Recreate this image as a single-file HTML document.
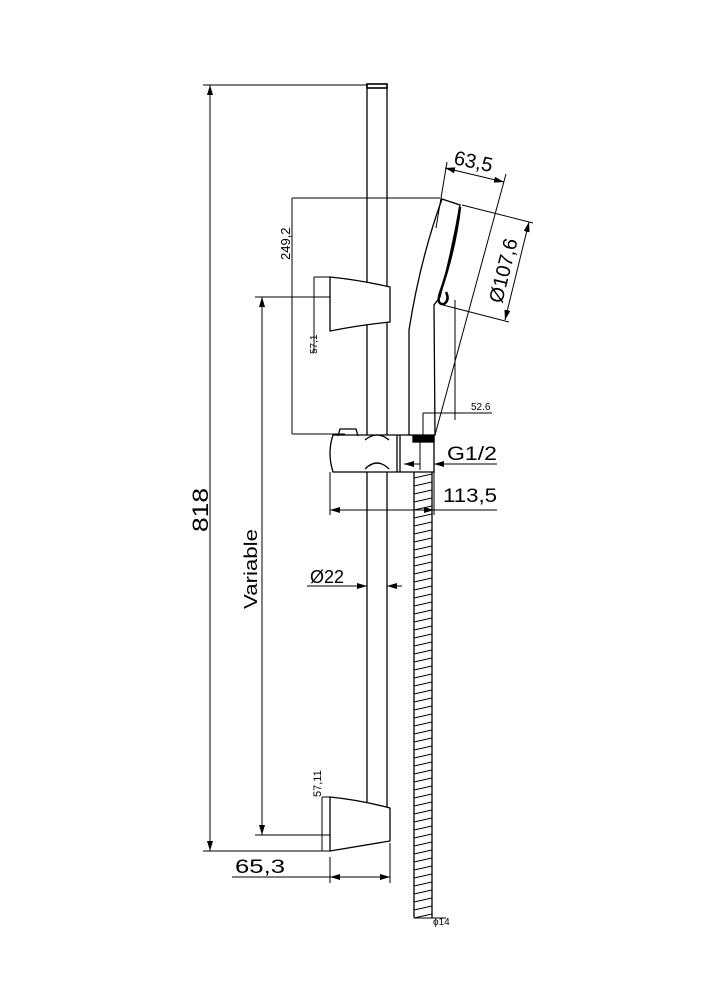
<!DOCTYPE html>
<html><head><meta charset="utf-8"><style>
html,body{margin:0;padding:0;background:#fff}
svg{display:block}
text{font-family:"Liberation Sans",sans-serif;fill:#000}
</style></head><body>
<svg width="707" height="1000" viewBox="0 0 707 1000" xmlns="http://www.w3.org/2000/svg">
<defs>
<marker id="a" viewBox="0 0 10 6" refX="10" refY="3" markerWidth="10" markerHeight="6" orient="auto-start-reverse" markerUnits="userSpaceOnUse"><path d="M0,0L10,3L0,6z" fill="#000"/></marker>
<pattern id="h" width="18" height="8" patternUnits="userSpaceOnUse"><line x1="0" y1="6" x2="18" y2="2" stroke="#000" stroke-width="1"/></pattern>
</defs>
<g fill="none" stroke="#000" stroke-width="1.3">
<line x1="367" y1="85" x2="367" y2="438"/><line x1="387" y1="85" x2="387" y2="438"/>
<line x1="367" y1="470" x2="367" y2="805"/><line x1="387" y1="470" x2="387" y2="808"/>
<rect x="367" y="84" width="20" height="4" fill="#fff" stroke-width="1.6"/>
<path d="M330,277 Q360,280 390,287 L390,322 Q360,325 330,331 Z" fill="#fff"/>
<path d="M330,797 Q360,800 390,808 L390,841 Q360,846 330,851 Z" fill="#fff"/>
<path d="M333,435 L397,435 L397,472 L333,472 Q327,453 333,435 Z" fill="#fff"/>
<path d="M397,435 L434,435 L434,472 L397,472"/>
<line x1="400" y1="435" x2="400" y2="472"/>
<path d="M365,440 Q377,430 389,440"/><path d="M365,469 Q377,457 389,469"/>
<path d="M338,436 L340,429 L356,429 L358,436"/>
<rect x="413" y="435" width="21" height="7" fill="#000"/>
<path d="M442,199 L460,205 Q452,250 440,297 L434,305 L435,435 L409,435 L409,330 Q420,260 442,199 Z" fill="#fff"/>
<path d="M460,207 Q455,250 440,293 Q436,305 444,304 Q450,300 446,292" stroke-width="2.5"/>
<rect x="414" y="472" width="18" height="446" fill="url(#h)" stroke="none"/>
<line x1="414" y1="472" x2="414" y2="918"/><line x1="432" y1="472" x2="432" y2="918"/>
<line x1="414" y1="918" x2="446" y2="918" stroke-width="1"/>
</g>
<g fill="none" stroke="#000" stroke-width="1">
<line x1="203" y1="85" x2="367" y2="85"/><line x1="203" y1="851" x2="330" y2="851"/>
<line x1="210" y1="85" x2="210" y2="851" marker-start="url(#a)" marker-end="url(#a)"/>
<line x1="255" y1="297" x2="330" y2="297"/><line x1="255" y1="835" x2="330" y2="835"/>
<line x1="262" y1="297" x2="262" y2="835" marker-start="url(#a)" marker-end="url(#a)"/>
<line x1="292" y1="198" x2="440" y2="198"/><line x1="292" y1="434" x2="345" y2="434"/>
<line x1="292" y1="198" x2="292" y2="434"/>
<line x1="314" y1="277" x2="330" y2="277"/><line x1="314" y1="277" x2="314" y2="353"/>
<line x1="322" y1="797" x2="330" y2="797"/><line x1="322" y1="797" x2="322" y2="851"/>
<line x1="330" y1="857" x2="330" y2="883"/><line x1="390" y1="843" x2="390" y2="883"/>
<line x1="232" y1="877" x2="330" y2="877"/>
<line x1="330" y1="877" x2="390" y2="877" marker-start="url(#a)" marker-end="url(#a)"/>
<line x1="330" y1="472" x2="330" y2="515"/><line x1="434" y1="472" x2="434" y2="515"/>
<line x1="330" y1="510" x2="434" y2="510" marker-start="url(#a)" marker-end="url(#a)"/>
<line x1="434" y1="510" x2="497" y2="510"/>
<line x1="420" y1="442" x2="420" y2="470"/>
<line x1="404" y1="464" x2="420" y2="464" marker-start="url(#a)"/>
<line x1="434" y1="464" x2="497" y2="464" marker-start="url(#a)"/>
<line x1="307" y1="586" x2="367" y2="586" marker-end="url(#a)"/>
<line x1="387" y1="586" x2="402" y2="586" marker-start="url(#a)"/>
<line x1="423" y1="413" x2="492" y2="413"/><line x1="423" y1="413" x2="423" y2="435"/>
<line x1="455" y1="300" x2="455" y2="420"/>
<line x1="447" y1="162" x2="436" y2="228"/>
<line x1="506" y1="174" x2="435" y2="435"/>
<line x1="445" y1="168" x2="504" y2="182" marker-start="url(#a)" marker-end="url(#a)"/>
<line x1="462" y1="205" x2="533" y2="223"/><line x1="443" y1="305" x2="509" y2="322"/>
<line x1="529" y1="222" x2="505" y2="320" marker-start="url(#a)" marker-end="url(#a)"/>
</g>
<g>
<text x="0" y="0" font-size="22" transform="translate(208,532) rotate(-90)" textLength="44" lengthAdjust="spacingAndGlyphs">818</text>
<text x="0" y="0" font-size="18" transform="translate(257,609) rotate(-90)" textLength="80" lengthAdjust="spacingAndGlyphs">Variable</text>
<text x="0" y="0" font-size="13" transform="translate(290,260) rotate(-90)">249,2</text>
<text x="0" y="0" font-size="10" transform="translate(317,354) rotate(-90)">57,1</text>
<text x="0" y="0" font-size="11" transform="translate(321,797) rotate(-90)">57,11</text>
<text x="235" y="873" font-size="19" textLength="50" lengthAdjust="spacingAndGlyphs">65,3</text>
<text x="443" y="502" font-size="19" textLength="54" lengthAdjust="spacingAndGlyphs">113,5</text>
<text x="447" y="460" font-size="19" textLength="50" lengthAdjust="spacingAndGlyphs">G1/2</text>
<text x="310" y="583" font-size="18">Ø22</text>
<text x="471" y="410" font-size="10">52.6</text>
<text x="433" y="925" font-size="10">ϕ14</text>
<text x="0" y="0" font-size="20" transform="translate(453,164) rotate(12)">63,5</text>
<text x="0" y="0" font-size="20" transform="translate(502,304) rotate(-76)">Ø107,6</text>
</g>
</svg>
</body></html>
